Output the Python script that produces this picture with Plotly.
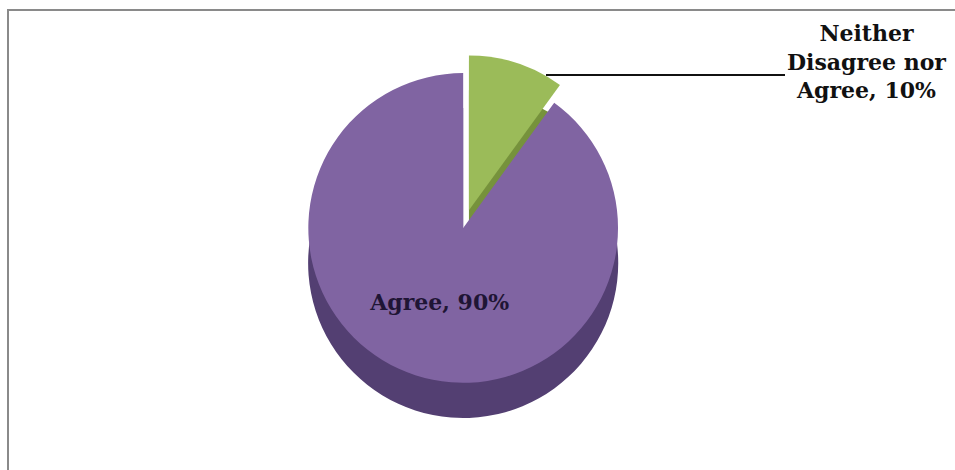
import plotly.graph_objects as go

labels = ["Neither<br>Disagree nor<br>Agree", "Agree"]
values = [10, 90]
colors = ["#9BBB59", "#8064A2"]
side_colors = ["#76923C", "#533F72"]
pulls = [0.12, 0]
templates = ["", "<b>%{label}, %{percent:.0%}</b>"]

total = sum(values)
neither_text = "<b>%s, %d%%</b>" % (labels[0], round(100 * values[0] / total))

fig = go.Figure()
# darker copy underneath, shifted down, to give the pie its depth
fig.add_trace(go.Pie(
    labels=labels,
    values=values,
    sort=False,
    direction="clockwise",
    rotation=0,
    pull=pulls,
    marker=dict(colors=side_colors, line=dict(color="rgba(0,0,0,0)", width=0)),
    textinfo="none",
    hoverinfo="skip",
    showlegend=False,
    domain=dict(x=[0.15, 0.82], y=[0.071, 0.810]),
))
fig.add_trace(go.Pie(
    labels=labels,
    values=values,
    sort=False,
    direction="clockwise",
    rotation=0,
    pull=pulls,
    marker=dict(colors=colors, line=dict(color="rgba(0,0,0,0)", width=0)),
    textposition="inside",
    texttemplate=templates,
    textfont=dict(family="DejaVu Serif", size=22, color="#1f1535"),
    insidetextorientation="horizontal",
    hoverinfo="label+percent",
    showlegend=False,
    domain=dict(x=[0.15, 0.82], y=[0.146, 0.884]),
))

fig.update_layout(
    width=955, height=470,
    margin=dict(l=0, r=0, t=0, b=0, autoexpand=False),
    paper_bgcolor="white",
    plot_bgcolor="white",
    font=dict(family="DejaVu Serif"),
    shapes=[
        dict(type="rect", xref="paper", yref="paper",
             x0=8 / 955, x1=1.02, y0=-0.02, y1=1 - 10 / 470,
             line=dict(color="#8a8a8a", width=2), fillcolor="rgba(0,0,0,0)",
             layer="below"),
        dict(type="line", xref="paper", yref="paper",
             x0=546 / 955, x1=785 / 955, y0=1 - 75 / 470, y1=1 - 75 / 470,
             line=dict(color="#111111", width=2)),
    ],
    annotations=[dict(
        xref="paper", yref="paper",
        x=866 / 955, y=1 - 18 / 470,
        showarrow=False,
        text=neither_text, xanchor="center", yanchor="top", align="center",
        font=dict(family="DejaVu Serif", size=22, color="#111111"),
    )],
)

fig.write_html("out.html")
